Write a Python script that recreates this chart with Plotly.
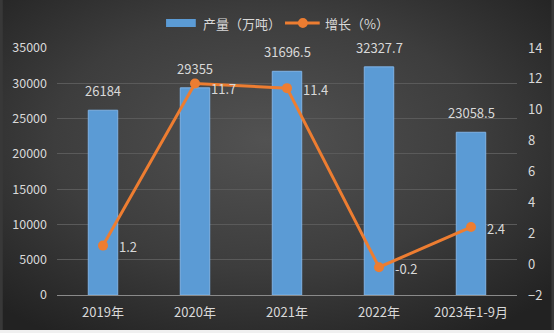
import base64
import plotly.graph_objects as go

categories = ["2019年", "2020年", "2021年", "2022年", "2023年1-9月"]
output_vals = [26184, 29355, 31696.5, 32327.7, 23058.5]
growth_vals = [1.2, 11.7, 11.4, -0.2, 2.4]
output_labels = ["26184", "29355", "31696.5", "32327.7", "23058.5"]
growth_labels = ["1.2", "11.7", "11.4", "-0.2", "2.4"]
legend_names = ["产量（万吨）", "增长（%）"]

svg = """<svg xmlns='http://www.w3.org/2000/svg' width='554' height='333'>
<defs><radialGradient id='g' cx='48%' cy='42%' r='70%'>
<stop offset='0%' stop-color='#525252'/>
<stop offset='55%' stop-color='#3d3d3d'/>
<stop offset='100%' stop-color='#222222'/>
</radialGradient></defs>
<rect width='554' height='333' fill='url(#g)'/>
</svg>"""
bg_uri = "data:image/svg+xml;base64," + base64.b64encode(svg.encode()).decode()

font_fam = "Noto Sans CJK SC, Noto Sans, sans-serif"
txt_col = "#d9d9d9"
bar_col = "#5b9bd5"
line_col = "#ed7d31"

fig = go.Figure()
fig.add_trace(go.Bar(
    x=categories, y=output_vals, name=legend_names[0],
    marker=dict(color=bar_col, line=dict(color="#7fb2e5", width=1)),
    width=0.32, yaxis="y", showlegend=False,
))
fig.add_trace(go.Scatter(
    x=categories, y=growth_vals, name=legend_names[1], mode="lines+markers",
    line=dict(color=line_col, width=3),
    marker=dict(color=line_col, size=10),
    yaxis="y2", cliponaxis=False, showlegend=False,
))

annotations = []
for c, v, t in zip(categories, output_vals, output_labels):
    annotations.append(dict(x=c, y=v, xref="x", yref="y", text=t, showarrow=False,
                            yanchor="bottom", yshift=8,
                            font=dict(size=13, color=txt_col, family=font_fam)))
for c, v, t in zip(categories, growth_vals, growth_labels):
    annotations.append(dict(x=c, y=v, xref="x", yref="y2", text=t, showarrow=False,
                            xanchor="left", yanchor="middle", xshift=14,
                            yshift=-5 if t == "11.7" else -1,
                            font=dict(size=13, color=txt_col, family=font_fam)))

W, H = 554, 333
ml, mr, mt, mb = 55, 35, 48, 38
pw, ph = W - ml - mr, H - mt - mb


def px(x):
    return (x - ml) / pw


def py(y):
    return (H - mb - y) / ph


# custom legend (wide bar swatch like reference)
annotations.append(dict(x=px(200), y=py(23), xref="paper", yref="paper", text=legend_names[0],
                        showarrow=False, xanchor="left", yanchor="middle",
                        font=dict(size=13, color=txt_col, family=font_fam)))
annotations.append(dict(x=px(323), y=py(23), xref="paper", yref="paper", text=legend_names[1],
                        showarrow=False, xanchor="left", yanchor="middle",
                        font=dict(size=13, color=txt_col, family=font_fam)))

shapes = [
    dict(type="rect", xref="paper", yref="paper", x0=px(165), x1=px(195),
         y0=py(27), y1=py(19), fillcolor=bar_col, line_width=0),
    dict(type="line", xref="paper", yref="paper", x0=px(285), x1=px(320),
         y0=py(23), y1=py(23), line=dict(color=line_col, width=3)),
    dict(type="circle", xref="paper", yref="paper", x0=px(298), x1=px(308),
         y0=py(28), y1=py(18), fillcolor=line_col, line_width=0),
    dict(type="rect", xref="paper", yref="paper", x0=-0.2, x1=1.2,
         y0=py(333), y1=py(330), fillcolor="#f0f0f0", line_width=0, layer="above"),
]

fig.update_layout(
    width=W, height=H,
    margin=dict(l=ml, r=mr, t=mt, b=mb),
    paper_bgcolor="#383838",
    plot_bgcolor="rgba(0,0,0,0)",
    font=dict(family=font_fam, color=txt_col, size=13),
    images=[dict(source=bg_uri, xref="paper", yref="paper", x=px(0), y=py(0),
                 sizex=W / pw, sizey=H / ph, sizing="stretch", layer="below",
                 xanchor="left", yanchor="top")],
    showlegend=False,
    annotations=annotations,
    shapes=shapes,
    xaxis=dict(showgrid=False, showline=True, linecolor="#8a8a8a", linewidth=1,
               ticks="", tickfont=dict(size=13, color=txt_col), ticklabelstandoff=5),
    yaxis=dict(range=[0, 35000], dtick=5000, tickformat="d", showgrid=True,
               gridcolor="#5a5a5a", gridwidth=1, zeroline=False, showline=False,
               ticks="", tickfont=dict(size=12.5, color=txt_col), ticklabelstandoff=9),
    yaxis2=dict(range=[-2, 14], dtick=2, overlaying="y", side="right",
                showgrid=False, zeroline=False, showline=False, ticks="",
                tickfont=dict(size=13, color=txt_col), ticklabelstandoff=10),
)

fig.write_html("out.html")
